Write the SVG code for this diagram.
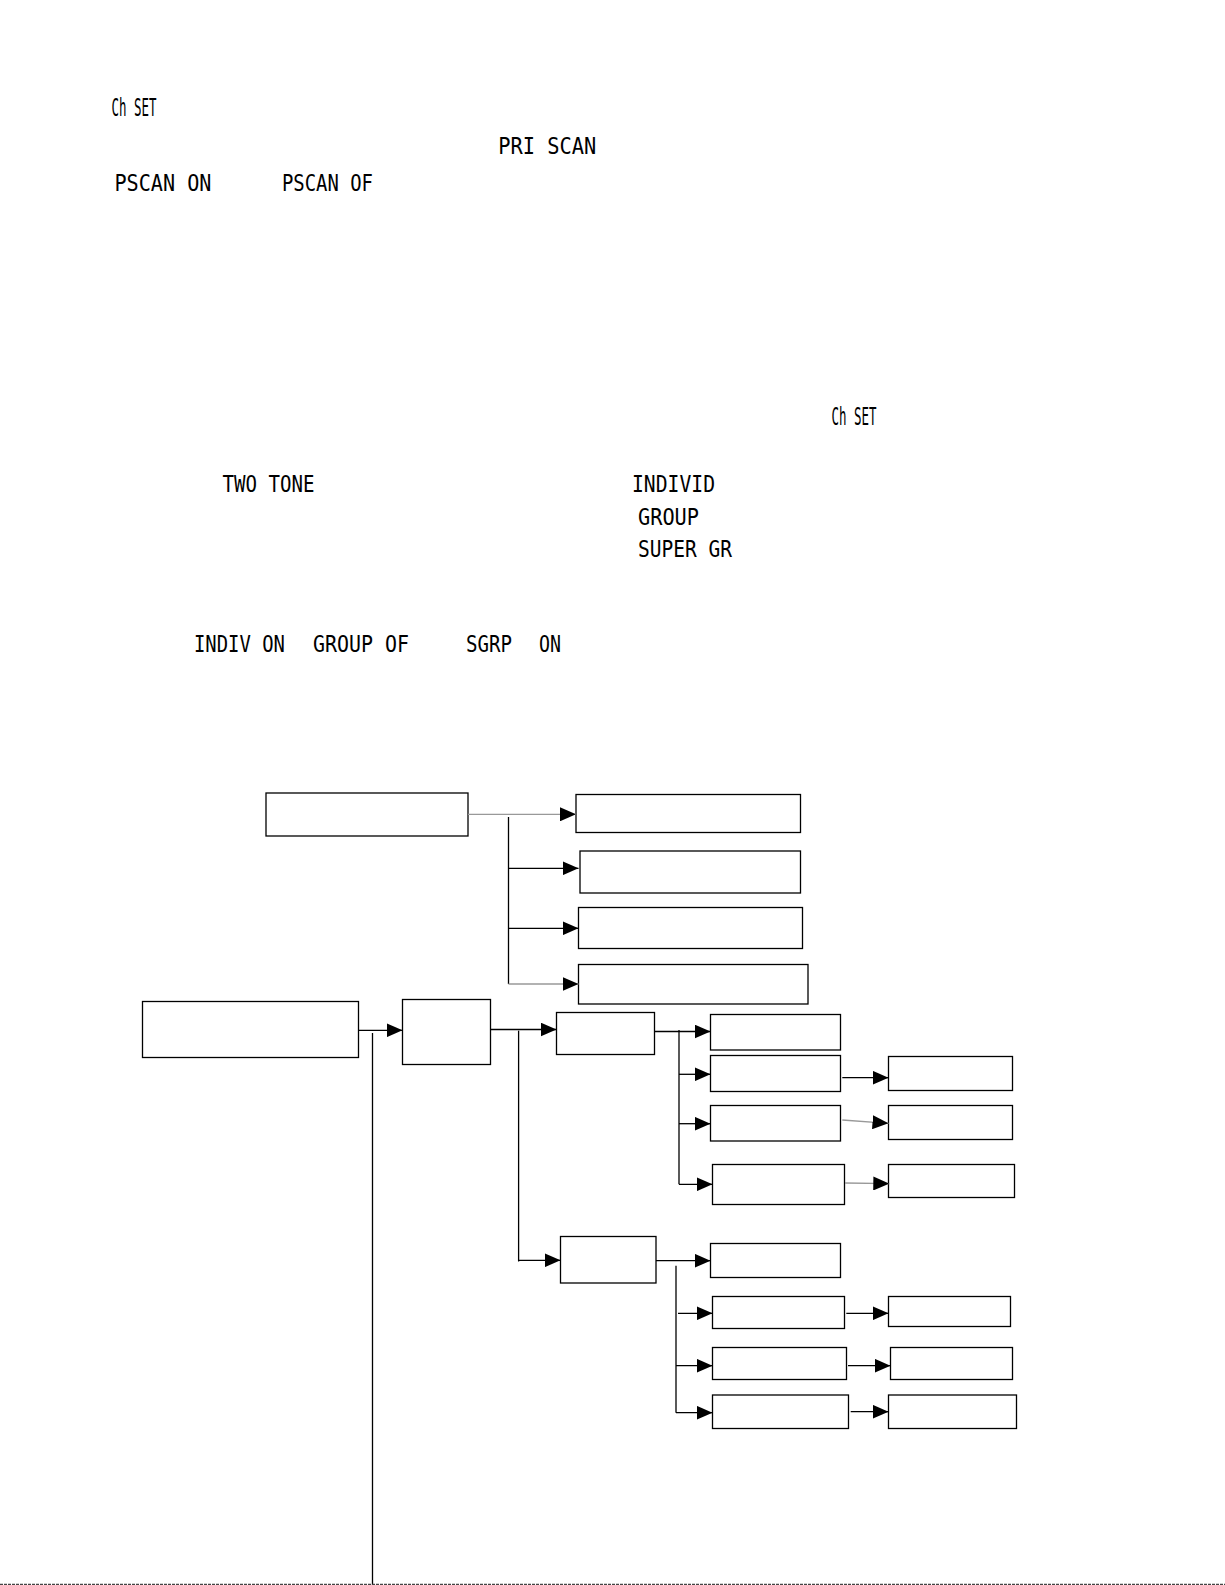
<svg xmlns="http://www.w3.org/2000/svg" width="1225" height="1585" viewBox="0 0 1225 1585">
<style>
.lcd{font-family:"DejaVu Sans Mono","Liberation Mono",monospace;font-size:23px;fill:#000;white-space:pre}
.big{font-size:25px}
.box{fill:#fff;stroke:#000;stroke-width:1.3}
.c{fill:none;stroke:#000;stroke-width:1.3}
.g{fill:none;stroke:#999;stroke-width:1.3}
</style>
<defs>
<marker id="ah" viewBox="0 0 16 14" refX="16" refY="7" markerWidth="16" markerHeight="14" markerUnits="userSpaceOnUse" orient="auto">
<polygon points="0,0 16,7 0,14" fill="#000"/>
</marker>
</defs>
<rect width="1225" height="1585" fill="#fff"/>
<g id="texts">
<text class="lcd big" x="111.5" y="116" textLength="45" lengthAdjust="spacingAndGlyphs">Ch SET</text>
<text class="lcd" x="498.3" y="154" textLength="98" lengthAdjust="spacingAndGlyphs">PRI SCAN</text>
<text class="lcd" x="114.5" y="191" textLength="97" lengthAdjust="spacingAndGlyphs">PSCAN ON</text>
<text class="lcd" x="282" y="191" textLength="91" lengthAdjust="spacingAndGlyphs">PSCAN OF</text>
<text class="lcd big" x="831.5" y="425" textLength="45" lengthAdjust="spacingAndGlyphs">Ch SET</text>
<text class="lcd" x="222.5" y="491.5" textLength="92" lengthAdjust="spacingAndGlyphs">TWO TONE</text>
<text class="lcd" x="632" y="491.5" textLength="83" lengthAdjust="spacingAndGlyphs">INDIVID</text>
<text class="lcd" x="638" y="525" textLength="61" lengthAdjust="spacingAndGlyphs">GROUP</text>
<text class="lcd" x="638" y="556.7" textLength="94" lengthAdjust="spacingAndGlyphs">SUPER GR</text>
<text class="lcd" x="194" y="651.7" textLength="91" lengthAdjust="spacingAndGlyphs">INDIV ON</text>
<text class="lcd" x="313" y="651.7" textLength="96" lengthAdjust="spacingAndGlyphs">GROUP OF</text>
<text class="lcd" x="466" y="651.7" textLength="46" lengthAdjust="spacingAndGlyphs">SGRP</text>
<text class="lcd" x="539" y="651.7" textLength="22" lengthAdjust="spacingAndGlyphs">ON</text>
</g>
<g id="A"><rect class="box" x="266" y="793" width="202" height="43"/></g>
<g id="B1"><rect class="box" x="576" y="794.5" width="224.5" height="38"/></g>
<g id="B2"><rect class="box" x="580" y="851" width="220.5" height="42"/></g>
<g id="B3"><rect class="box" x="578.5" y="907.5" width="224" height="41"/></g>
<g id="B4"><rect class="box" x="578.5" y="964.5" width="229.5" height="39.5"/></g>
<g id="C"><rect class="box" x="142.5" y="1001.5" width="216" height="56"/></g>
<g id="D"><rect class="box" x="402.5" y="999.5" width="88" height="65"/></g>
<g id="E1"><rect class="box" x="556.5" y="1012.5" width="98" height="42"/></g>
<g id="E2"><rect class="box" x="560.5" y="1236.5" width="95.5" height="46.5"/></g>
<g id="F1"><rect class="box" x="710.5" y="1014.5" width="130" height="35.5"/></g>
<g id="F2"><rect class="box" x="710.5" y="1055.5" width="130" height="36"/></g>
<g id="F3"><rect class="box" x="710.5" y="1105.5" width="130" height="35.5"/></g>
<g id="F4"><rect class="box" x="712.5" y="1164.5" width="132" height="40"/></g>
<g id="G1"><rect class="box" x="888.5" y="1056.5" width="124" height="34"/></g>
<g id="G2"><rect class="box" x="888.5" y="1105.5" width="124" height="34"/></g>
<g id="G3"><rect class="box" x="888.5" y="1164.5" width="126" height="33"/></g>
<g id="H1"><rect class="box" x="710.5" y="1243.5" width="130" height="34"/></g>
<g id="H2"><rect class="box" x="712.5" y="1296.5" width="132" height="32"/></g>
<g id="H3"><rect class="box" x="712.5" y="1347.5" width="134" height="32"/></g>
<g id="H4"><rect class="box" x="712.5" y="1395" width="136" height="33.5"/></g>
<g id="I1"><rect class="box" x="888.5" y="1296.5" width="122" height="30"/></g>
<g id="I2"><rect class="box" x="890.5" y="1347.5" width="122" height="32"/></g>
<g id="I3"><rect class="box" x="888.5" y="1395" width="128" height="33.5"/></g>
<g id="connectors">
<path class="g" d="M468,814.3 H576" marker-end="url(#ah)"/>
<path class="c" d="M508.5,817 V984"/>
<path class="c" d="M508.5,868.3 H578.5" marker-end="url(#ah)"/>
<path class="c" d="M508.5,928.3 H578.5" marker-end="url(#ah)"/>
<path class="g" d="M508.5,984 H578.5" marker-end="url(#ah)"/>
<path class="c" d="M358.6,1030.3 H402.5" marker-end="url(#ah)"/>
<path class="c" d="M372.5,1033 V1585"/>
<path class="c" d="M490.7,1029.5 H556.5" marker-end="url(#ah)"/>
<path class="c" d="M518.6,1030.7 V1261.5"/>
<path class="c" d="M518.6,1260.3 H560.5" marker-end="url(#ah)"/>
<path class="c" d="M654.6,1031.5 H710.5" marker-end="url(#ah)"/>
<path class="c" d="M679,1030 V1184.3"/>
<path class="c" d="M679,1074.3 H710.5" marker-end="url(#ah)"/>
<path class="c" d="M679,1123.7 H710.5" marker-end="url(#ah)"/>
<path class="c" d="M679,1184.3 H712.5" marker-end="url(#ah)"/>
<path class="c" d="M842.3,1077.7 H888.5" marker-end="url(#ah)"/>
<path class="g" d="M842.3,1120 L888.5,1123.3" marker-end="url(#ah)"/>
<path class="g" d="M845,1183 L889.3,1183.7" marker-end="url(#ah)"/>
<path class="c" d="M656,1260.7 H710.5" marker-end="url(#ah)"/>
<path class="c" d="M676,1265.7 V1412.7"/>
<path class="c" d="M678,1313.3 H712.5" marker-end="url(#ah)"/>
<path class="c" d="M676,1365.7 H712.5" marker-end="url(#ah)"/>
<path class="c" d="M676,1412.7 H712.5" marker-end="url(#ah)"/>
<path class="c" d="M846.3,1313.3 H888.5" marker-end="url(#ah)"/>
<path class="c" d="M848,1365.7 H890.5" marker-end="url(#ah)"/>
<path class="c" d="M850.7,1411.7 H888.5" marker-end="url(#ah)"/>
</g>
<line x1="0" y1="1584.3" x2="1225" y2="1584.3" stroke="#444" stroke-width="1.3" stroke-dasharray="3,1"/>
</svg>
